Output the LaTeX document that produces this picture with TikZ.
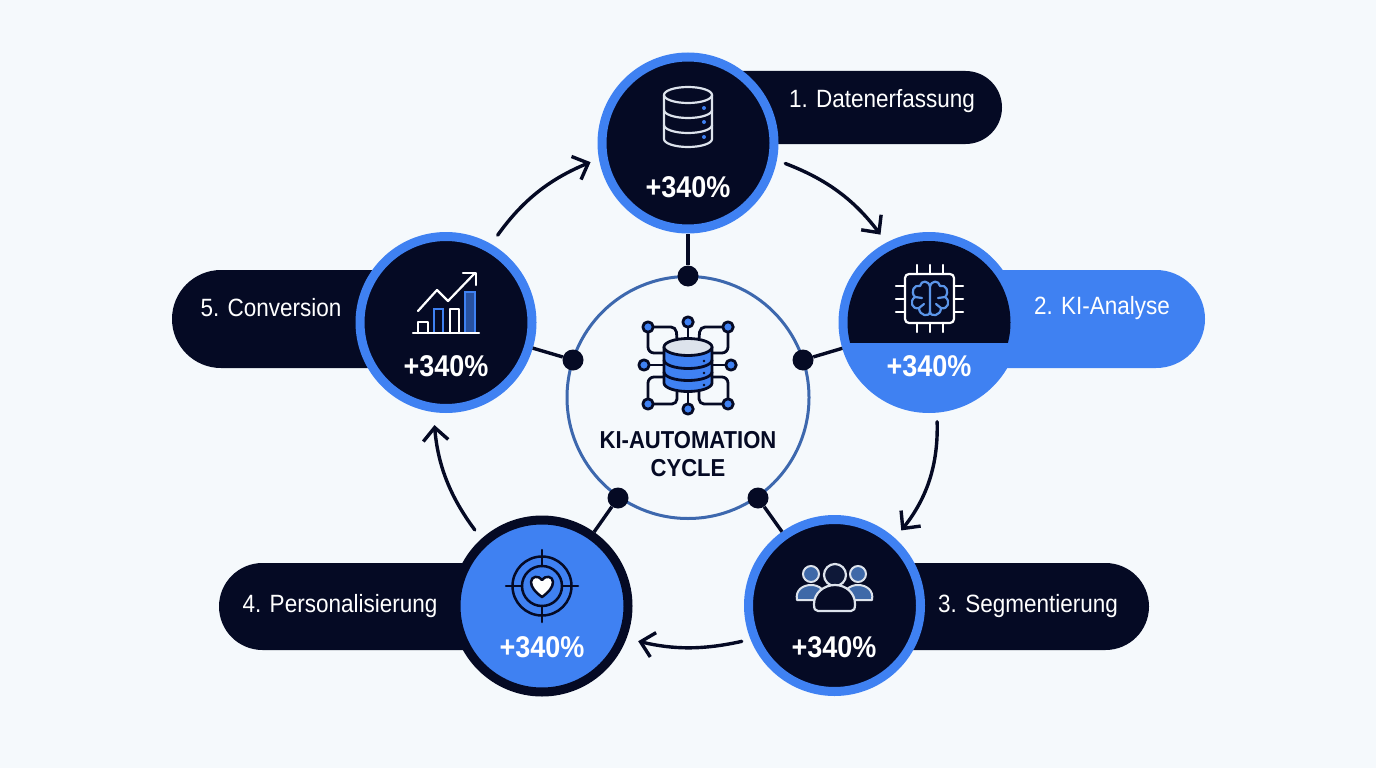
\documentclass[tikz,border=0pt]{standalone}
\usepackage{fontspec}
\setmainfont[FakeStretch=0.9]{Liberation Sans}
\usetikzlibrary{arrows.meta}

\definecolor{pagebg}{HTML}{F5F9FC}
\definecolor{navy}{HTML}{050A24}
\definecolor{brand}{HTML}{3F81F2}
\definecolor{hubline}{HTML}{3D68AE}
\definecolor{softblue}{HTML}{3F69A8}
\definecolor{brainblue}{HTML}{5B95E8}
\definecolor{paleicon}{HTML}{DDE3EC}

\tikzset{
    stepcircle/.style={circle, draw=brand, fill=navy, line width=9pt, minimum size=172pt, inner sep=0},
    pill/.style={fill=navy, inner sep=0, rounded corners=#1},
    pilltext/.style={text=white, font=\fontsize{25}{30}\selectfont, inner sep=0},
    gaintext/.style={text=white, font=\bfseries\fontsize{30}{36}\selectfont, inner sep=0},
    joint/.style={circle, fill=navy, minimum size=21pt, inner sep=0},
    spoke/.style={navy, line width=3.4pt},
    flowline/.style={navy, line width=3.4pt, line cap=round, -{Straight Barb[length=13pt,width=25pt,line width=3.4pt]}},
    iconline/.style={draw=white, line width=2.2pt, line cap=round, line join=round},
    hubicon/.style={draw=navy, line width=2.8pt, line cap=round, line join=round}
}

\begin{document}
\begin{tikzpicture}[x=1pt, y=-1pt]
    \useasboundingbox (0,0) rectangle (1376,768);
    \fill[pagebg] (0,0) rectangle (1376,768);

    % pills behind the circles
    \node [pill=36.5pt, minimum width=314pt, minimum height=73pt] (p1) at (845,107.5) {};
    \node [pill=49pt, fill=brand, minimum width=276pt, minimum height=98pt] (p2) at (1067,319) {};
    \node [pill=43.5pt, minimum width=315pt, minimum height=87pt] (p3) at (991.5,606.5) {};
    \node [pill=43.5pt, minimum width=323pt, minimum height=87pt] (p4) at (380.5,606.5) {};
    \node [pill=49pt, minimum width=274pt, minimum height=98pt] (p5) at (309,319) {};

    % hub and joints
    \node [circle, draw=hubline, line width=3pt, minimum size=242pt, inner sep=0] (hub) at (688,397.5) {};
    \node [joint] (j1) at (688,276) {};
    \node [joint] (j2) at (803,360) {};
    \node [joint] (j3) at (758,498) {};
    \node [joint] (j4) at (618,498) {};
    \node [joint] (j5) at (573,360) {};

    % step circles
    \node [stepcircle] (c1) at (688,143) {};
    \node [stepcircle, fill=brand] (c2) at (929,322.5) {};
    \node [stepcircle] (c3) at (834.5,605.5) {};
    \node [stepcircle, draw=navy, fill=brand] (c4) at (542,606) {};
    \node [stepcircle] (c5) at (446,322.5) {};

    \begin{scope}
        \clip (840,200) rectangle (1020,342);
        \fill[navy] (c2) circle [radius=81.5pt];
    \end{scope}

    \foreach \i in {1,...,5} {
        \draw[spoke] (j\i) -- (c\i);
    }

    \begin{scope}[every path/.style={flowline}]
        \path (c1.-11) edge [bend left=16, shorten <=9pt, shorten >=10pt] (c2.118);
        \path (c2.-85) edge [bend left=20, shorten <=9pt, shorten >=10pt] (c3.48);
        \path (c3.202) edge [bend left=13, shorten <=9pt, shorten >=12pt] (c4.-21);
        \path (c4.132) edge [bend left=16, shorten <=11pt, shorten >=13pt] (c5.-98);
        \path (c5.60) edge [bend left=16, shorten <=11pt, shorten >=9pt] (c1.190);
    \end{scope}

    % labels
    \node [pilltext] (t1) at (882,101.5) {1. Datenerfassung};
    \node [pilltext] (t2) at (1102,308.5) {2. KI-Analyse};
    \node [pilltext] (t3) at (1028,606) {3. Segmentierung};
    \node [pilltext] (t4) at (340,606) {4. Personalisierung};
    \node [pilltext] (t5) at (271,307.5) {5. Conversion};

    \node [gaintext] (g1) at (688,187) {+340\%};
    \node [gaintext] (g2) at (929,366) {+340\%};
    \node [gaintext] (g3) at (834,647) {+340\%};
    \node [gaintext] (g4) at (542,647) {+340\%};
    \node [gaintext] (g5) at (446,366) {+340\%};

    \node [text=navy, font=\bfseries\fontsize{24.5}{28}\selectfont, align=center, inner sep=0] (title) at (688,454) {KI-AUTOMATION\\CYCLE};

    % database icon
    \draw[iconline, paleicon] (664,95) -- (664,139) arc [start angle=180, end angle=360, x radius=24pt, y radius=8pt] -- (712,95);
    \draw[iconline, paleicon] (688,95) ellipse [x radius=24pt, y radius=8pt];
    \foreach \y in {110,125} {
        \draw[iconline, paleicon] (664,\y) arc [start angle=180, end angle=360, x radius=24pt, y radius=8pt];
    }
    \foreach \y in {108,122,137} {
        \fill[brand] (704,\y) circle [radius=2pt];
    }

    % chip icon
    \draw[iconline] (905,274) [rounded corners=4pt] -- (954,274) -- (954,323) -- (905,323) -- cycle;
    \foreach \x in {917,930,943} {
        \draw[iconline] (\x,265) -- (\x,274);
        \draw[iconline] (\x,323) -- (\x,332);
    }
    \foreach \y in {286,299,312} {
        \draw[iconline] (896,\y) -- (905,\y);
        \draw[iconline] (954,\y) -- (963,\y);
    }
    \draw[brainblue, line width=2.2pt, line cap=round, line join=round]
        (930,285) -- (930,314)
        (930,287) .. controls (929,280) and (921,280) .. (920,286)
        .. controls (914,284) and (910,292) .. (915,297)
        .. controls (909,301) and (912,310) .. (919,308)
        .. controls (919,316) and (930,318) .. (930,311)
        (915,297) -- (922,298) (919,308) -- (924,304)
        (930,287) .. controls (931,280) and (939,280) .. (940,286)
        .. controls (946,284) and (950,292) .. (945,297)
        .. controls (951,301) and (948,310) .. (941,308)
        .. controls (941,316) and (930,318) .. (930,311)
        (945,297) -- (938,298) (941,308) -- (936,304);

    % people icon
    \filldraw[draw=paleicon, fill=softblue, line width=2pt] (811,574) circle [radius=8pt];
    \filldraw[draw=paleicon, fill=softblue, line width=2pt] (858,574) circle [radius=8pt];
    \filldraw[draw=paleicon, fill=softblue, line width=2pt, line join=round]
        (797,600) .. controls (795,590) and (803,585) .. (811,585) .. controls (819,585) and (826,590) .. (826,600) -- cycle;
    \filldraw[draw=paleicon, fill=softblue, line width=2pt, line join=round]
        (872,600) .. controls (874,590) and (866,585) .. (858,585) .. controls (850,585) and (843,590) .. (843,600) -- cycle;
    \filldraw[draw=paleicon, fill=navy!85!softblue, line width=2.2pt] (835,575) circle [radius=11pt];
    \filldraw[draw=paleicon, fill=navy, line width=2.2pt, line join=round]
        (814,604) .. controls (814,593) and (824,585) .. (835,585) .. controls (846,585) and (855,593) .. (855,604)
        .. controls (855,609) and (854,611) .. (851,611) -- (818,611) .. controls (815,611) and (814,609) .. (814,604) -- cycle;

    % target icon
    \draw[navy, line width=2.5pt] (542,586) circle [radius=29.5pt];
    \draw[navy, line width=2.5pt] (542,586) circle [radius=20pt];
    \draw[navy, line width=2.5pt, line cap=round]
        (506,586) -- (522,586) (562,586) -- (578,586) (542,550) -- (542,566) (542,606) -- (542,622);
    \filldraw[draw=navy, fill=white, line width=2.5pt, line join=round]
        (542,597) .. controls (535,592) and (531,587) .. (531,582) .. controls (531,576) and (539,575) .. (542,580)
        .. controls (545,575) and (553,576) .. (553,582) .. controls (553,587) and (549,592) .. (542,597) -- cycle;

    % chart icon
    \draw[iconline] (418,333) -- (418,322) -- (428,322) -- (428,333);
    \filldraw[draw=brand, fill=navy, line width=2.4pt] (434,333) -- (434,309) -- (443,309) -- (443,333);
    \draw[iconline] (450,333) -- (450,309) -- (459,309) -- (459,333);
    \filldraw[draw=brand, fill=navy!40!brand, line width=2.4pt] (465,333) -- (465,292) -- (475,292) -- (475,333);
    \draw[iconline] (413,333) -- (479,333);
    \draw[iconline] (418,311) -- (437,290) -- (448,301) -- (475,273);
    \draw[iconline] (463,273) -- (476,273) -- (476,285);

    % hub icon
    \begin{scope}[every path/.style={hubicon}]
        \path (688,328) -- (688,339);
        \path [rounded corners=5pt] (654,327) -- (676,327) -- (677,339);
        \path [rounded corners=6pt] (648,333) -- (648,353) -- (664,353);
        \path [rounded corners=5pt] (722,327) -- (700,327) -- (699,339);
        \path [rounded corners=6pt] (728,333) -- (728,353) -- (712,353);
        \path (650,365) -- (664,365);
        \path (726,365) -- (712,365);
        \path [rounded corners=6pt] (648,398) -- (648,377) -- (664,377);
        \path [rounded corners=6pt] (728,398) -- (728,377) -- (712,377);
        \path [rounded corners=5pt] (654,404) -- (677,404) -- (677,390);
        \path [rounded corners=5pt] (722,404) -- (699,404) -- (699,390);
        \path (688,392) -- (688,403);
    \end{scope}
    \filldraw[hubicon, fill=brand] (664,347) -- (664,383) arc [start angle=180, end angle=360, x radius=24pt, y radius=8.5pt] -- (712,347) -- cycle;
    \filldraw[hubicon, fill=paleicon] (688,347) ellipse [x radius=24pt, y radius=8.5pt];
    \foreach \y in {360,372} {
        \draw[hubicon] (664,\y) arc [start angle=180, end angle=360, x radius=24pt, y radius=8.5pt];
    }
    \foreach \y in {361,373,385} {
        \fill[navy] (704,\y) circle [radius=1.3pt];
    }
    \foreach \x/\y in {688/322,648/327,728/327,644/365,731/365,648/404,728/404,688/409} {
        \filldraw[hubicon, fill=brand] (\x,\y) circle [radius=5.2pt];
    }
\end{tikzpicture}
\end{document}
